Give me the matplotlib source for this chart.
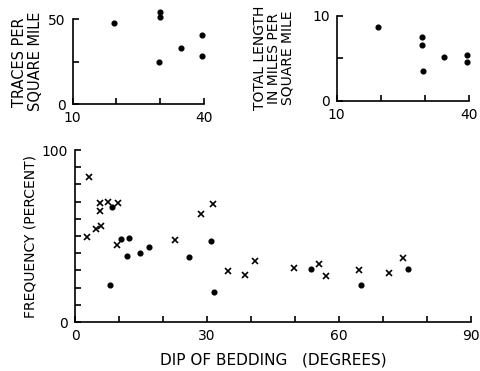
import matplotlib.pyplot as plt
import numpy as np

plt.rcParams['font.family'] = ['DejaVu Sans']

# Upper panels: fracture traces vs dip (degrees)
top_dip = [19.5, 30, 30, 29.7, 34.8, 39.6, 39.6]
traces_per_sq_mile = [48.1, 54.5, 51.5, 24.7, 32.9, 40.6, 28.6]
length_dip = [19.5, 29.4, 29.3, 29.7, 34.5, 39.6, 39.6]
length_per_sq_mile = [8.63, 7.5, 6.5, 3.46, 5.18, 5.4, 4.5]

# Lower panel: frequency (percent) vs dip of bedding
cross_dip = [3.25, 2.65, 4.7, 5.9, 5.6, 5.6, 7.6, 9.8, 9.6, 22.7, 28.6, 31.3,
             34.7, 38.7, 40.9, 49.8, 55.5, 57.0, 64.6, 71.4, 74.5]
cross_freq = [84.5, 49.6, 53.9, 56, 64.5, 69, 69.8, 69, 45, 47.7, 62.6, 68.6,
              29.5, 27.1, 35.3, 31.4, 33.9, 26.9, 30, 28.5, 37.4]
dot_dip = [8.5, 8.0, 10.5, 12.3, 11.9, 14.8, 16.9, 25.8, 30.8, 31.6, 53.6, 64.9, 75.7]
dot_freq = [67, 21.5, 48.3, 48.7, 38.6, 40.1, 43.8, 38, 47.3, 17.3, 31, 21.5, 30.8]

W, H = 481, 371
fig = plt.figure(figsize=(W / 100, H / 100), dpi=100)


def box(x0, x1, y0, y1):
    # pixel coords (y from top) -> figure fraction rect
    return [x0 / W, (H - y1) / H, (x1 - x0) / W, (y1 - y0) / H]


def style(ax):
    for s in ['top', 'right']:
        ax.spines[s].set_visible(False)
    for s in ['left', 'bottom']:
        ax.spines[s].set_linewidth(1.2)
    ax.tick_params(direction='in', length=4, width=1.2, labelsize=10, pad=5)


ax1 = fig.add_axes(box(72.7, 204, 19.3, 104.3))
ax1.plot(top_dip, traces_per_sq_mile, 'o', color='black', ms=3.4, clip_on=False)
ax1.set_xlim(10, 40)
ax1.set_ylim(0, 50)
ax1.set_xticks([10, 20, 30, 40])
ax1.set_xticklabels(['10', '', '', '40'])
ax1.set_yticks([0, 25, 50])
ax1.set_yticklabels(['0', '', '50'])
style(ax1)
ax1.set_ylabel('TRACES PER\nSQUARE MILE', fontsize=10.5, labelpad=4, linespacing=1.05)

ax2 = fig.add_axes(box(336.7, 468.7, 15.7, 100.7))
ax2.plot(length_dip, length_per_sq_mile, 'o', color='black', ms=3.4, clip_on=False)
ax2.set_xlim(10, 40)
ax2.set_ylim(0, 10)
ax2.set_xticks([10, 20, 30, 40])
ax2.set_xticklabels(['10', '', '', '40'])
ax2.set_yticks([0, 5, 10])
ax2.set_yticklabels(['0', '', '10'])
style(ax2)
ax2.set_ylabel('TOTAL LENGTH\nIN MILES PER\nSQUARE MILE', fontsize=10, labelpad=13,
               linespacing=0.95)

ax3 = fig.add_axes(box(75, 471, 150, 322))
ax3.plot(cross_dip, cross_freq, 'x', color='black', ms=4, mew=1.2, clip_on=False)
ax3.plot(dot_dip, dot_freq, 'o', color='black', ms=3.4, clip_on=False)
ax3.set_xlim(0, 90)
ax3.set_ylim(0, 100)
ax3.set_xticks(np.arange(0, 91, 10))
ax3.set_xticklabels(['0', '', '', '30', '', '', '60', '', '', '90'])
ax3.set_yticks(np.arange(0, 101, 10))
ax3.set_yticklabels(['0'] + [''] * 9 + ['100'])
style(ax3)
ax3.set_ylabel('FREQUENCY (PERCENT)', fontsize=10, labelpad=3)
ax3.set_xlabel('DIP OF BEDDING   (DEGREES)', fontsize=11, labelpad=7)

fig.savefig('out.png', dpi=100)
